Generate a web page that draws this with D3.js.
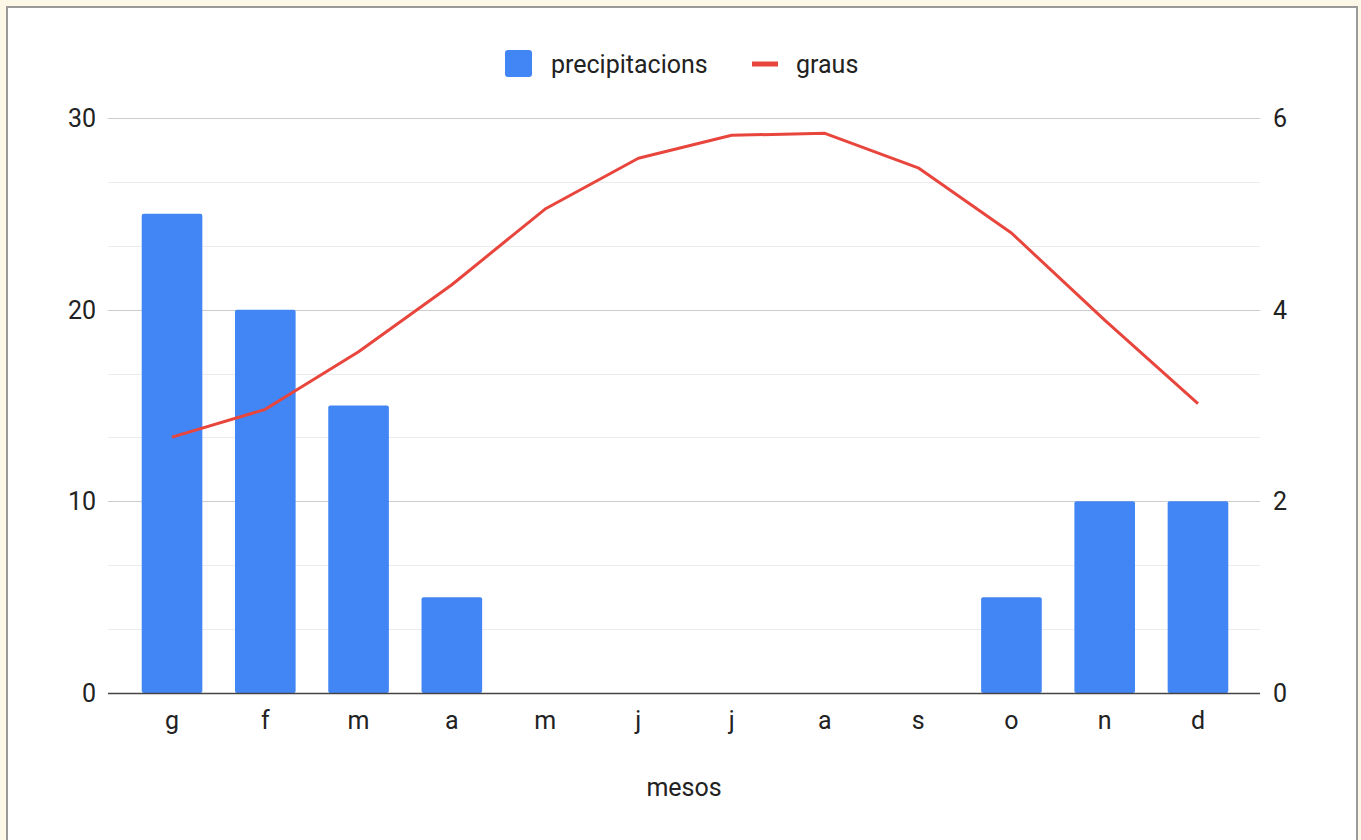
<!DOCTYPE html>
<html><head><meta charset="utf-8">
<script src="https://cdn.jsdelivr.net/npm/d3@7"></script>
<style>
html,body{margin:0;padding:0;background:#fdf7e7;}
svg{display:block;}
text{font-family:Roboto,Arial,sans-serif;fill:#222;}
</style></head><body>
<svg id="chart" width="1361" height="840"></svg>
<script>
const months = ["g","f","m","a","m","j","j","a","s","o","n","d"];
const precipitacions = [25,20,15,5,0,0,0,0,0,5,10,10];
const graus = [2.67,2.96,3.56,4.26,5.05,5.58,5.82,5.84,5.48,4.80,3.89,3.02];
const leftTicks = [0,10,20,30];
const rightTicks = [0,2,4,6];
const seriesNames = ["precipitacions","graus"];
const xTitle = "mesos";

const FS = 25;
const svg = d3.select("#chart");
svg.append("rect").attr("x",7).attr("y",7).attr("width",1350).attr("height",840)
  .attr("fill","#fff").attr("stroke","#9a9a9a").attr("stroke-width",2);

const idx = months.map((d,i)=>i);
const x = d3.scaleBand().domain(idx).range([125.4,1244.6]).paddingInner(0.35).paddingOuter(0.175);
const yL = d3.scaleLinear().domain([0,30]).range([693,118]);
const yR = d3.scaleLinear().domain([0,6]).range([693,118]);
const gridX0 = 108, gridX1 = 1260;

// minor gridlines
const minor = d3.range(0,30.001,10/3).filter(v=>!leftTicks.some(t=>Math.abs(t-v)<0.01));
svg.append("g").selectAll("line").data(minor).join("line")
  .attr("x1",gridX0).attr("x2",gridX1)
  .attr("y1",d=>Math.round(yL(d))+0.5).attr("y2",d=>Math.round(yL(d))+0.5)
  .attr("stroke","#ebebeb").attr("stroke-width",1);
// major gridlines
svg.append("g").selectAll("line").data(leftTicks.filter(d=>d>0)).join("line")
  .attr("x1",gridX0).attr("x2",gridX1)
  .attr("y1",d=>Math.round(yL(d))+0.5).attr("y2",d=>Math.round(yL(d))+0.5)
  .attr("stroke","#cccccc").attr("stroke-width",1);

// bars
svg.append("g").selectAll("rect").data(precipitacions).join("rect")
  .attr("x",(d,i)=>x(i)).attr("width",x.bandwidth())
  .attr("y",d=>yL(d)).attr("height",d=>yL(0)-yL(d))
  .attr("rx",2).attr("fill","#4285f4");

// baseline
svg.append("line").attr("x1",gridX0).attr("x2",gridX1)
  .attr("y1",yL(0)+0.5).attr("y2",yL(0)+0.5).attr("stroke","#444").attr("stroke-width",1.5);

// line
const line = d3.line().x((d,i)=>x(i)+x.bandwidth()/2).y(d=>yR(d));
svg.append("path").datum(graus).attr("d",line).attr("fill","none")
  .attr("stroke","#e8453c").attr("stroke-width",3).attr("stroke-linejoin","round");

// left axis labels
svg.append("g").selectAll("text").data(leftTicks).join("text")
  .attr("x",96).attr("y",d=>yL(d)).attr("dy","0.36em").attr("text-anchor","end")
  .attr("font-size",FS).text(d=>d);
// right axis labels
svg.append("g").selectAll("text").data(rightTicks).join("text")
  .attr("x",1273).attr("y",d=>yR(d)).attr("dy","0.36em").attr("text-anchor","start")
  .attr("font-size",FS).text(d=>d);
// x labels
svg.append("g").selectAll("text").data(months).join("text")
  .attr("x",(d,i)=>x(i)+x.bandwidth()/2).attr("y",729).attr("text-anchor","middle")
  .attr("font-size",FS).text(d=>d);
// x title
svg.append("text").attr("x",684).attr("y",796).attr("text-anchor","middle")
  .attr("font-size",FS).text(xTitle);

// legend
const lg = svg.append("g");
lg.append("rect").attr("x",505).attr("y",50).attr("width",27).attr("height",27).attr("rx",3).attr("fill","#4285f4");
lg.append("text").attr("x",551).attr("y",63.5).attr("dy","0.36em").attr("font-size",FS).text(seriesNames[0]);
lg.append("rect").attr("x",752).attr("y",61.5).attr("width",26).attr("height",5).attr("fill","#e8453c");
lg.append("text").attr("x",796).attr("y",63.5).attr("dy","0.36em").attr("font-size",FS).text(seriesNames[1]);
</script>
</body></html>
